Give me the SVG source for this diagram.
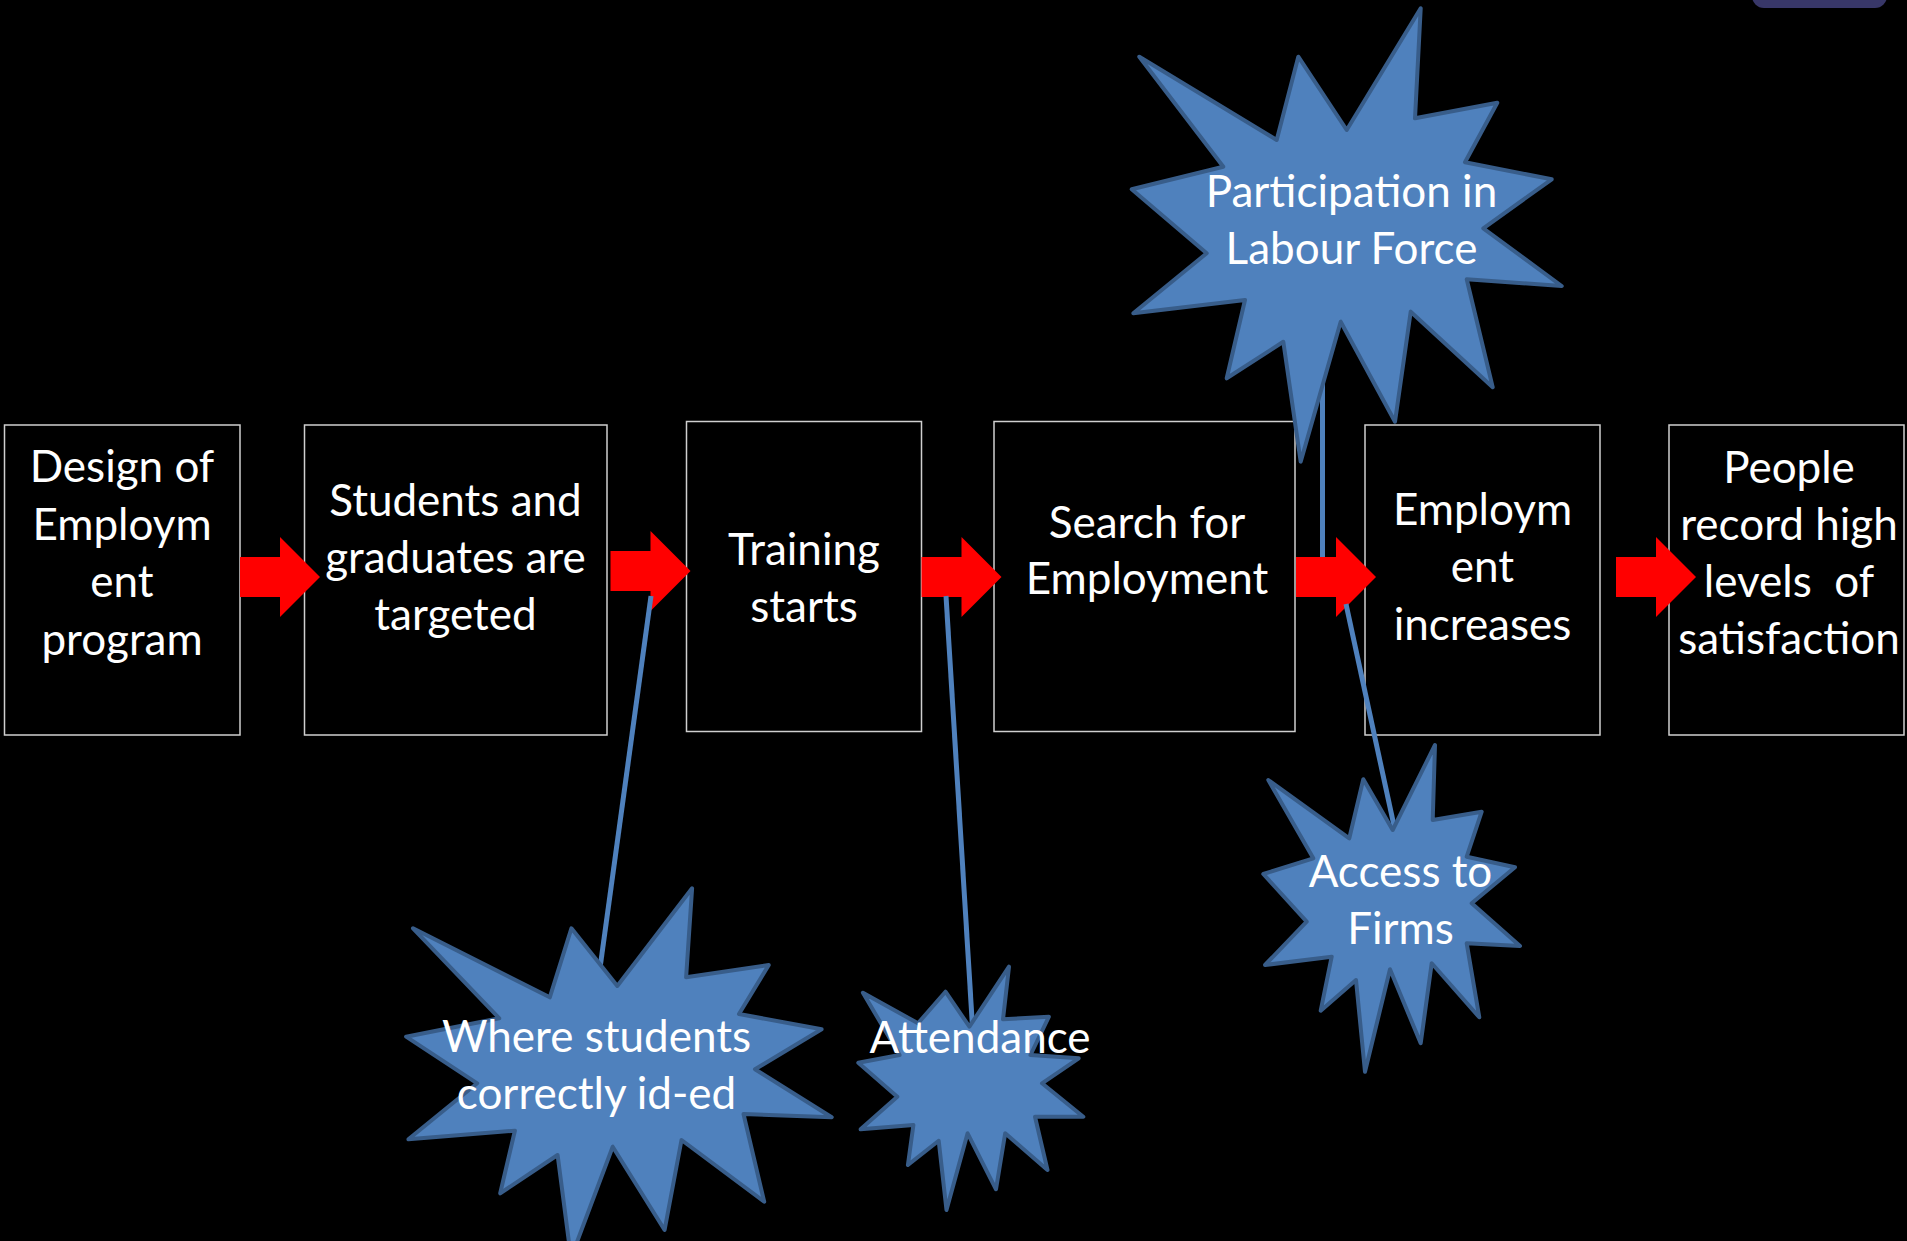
<svg xmlns="http://www.w3.org/2000/svg" xmlns:xlink="http://www.w3.org/1999/xlink" width="1907" height="1241" viewBox="0 0 1907 1241">
  <style>
    .box { fill: #000000; stroke: #cfcfcf; stroke-width: 1.5; }
    .lbl { font-family: Lato, "Open Sans", "Liberation Sans", sans-serif; font-size: 44px; fill: #ffffff; text-anchor: middle; }
    .burst { fill: #4f81bd; stroke: #385d8a; stroke-width: 4; stroke-linejoin: round; }
    .link { stroke: #4f81bd; stroke-width: 5; fill: none; }
    .flow { fill: #ff0000; }
  </style>
  <defs>
    <!-- block arrow: shaft 40 high, head 80 high, 80 long overall -->
    <path id="blockArrow" d="M0,0 H40 V-20 L80,20 L40,60 V40 H0 Z"/>
  </defs>

  <rect x="0" y="0" width="1907" height="1241" fill="#000000"/>
  <!-- tab at the top right edge -->
  <rect x="1752" y="-20" width="135" height="28" rx="12" fill="#383768"/>

  <!-- process boxes -->
  <g id="node-design">
    <rect class="box" x="4.5" y="425" width="235.5" height="310"/>
    <text class="lbl" x="122" y="482">Design of</text>
    <text class="lbl" x="122" y="540">Employm</text>
    <text class="lbl" x="122" y="597">ent</text>
    <text class="lbl" x="122" y="655">program</text>
  </g>
  <g id="node-targeted">
    <rect class="box" x="304.5" y="425" width="302.5" height="310"/>
    <text class="lbl" x="455.5" y="516">Students and</text>
    <text class="lbl" x="455.5" y="573">graduates are</text>
    <text class="lbl" x="455.5" y="630">targeted</text>
  </g>
  <g id="node-training">
    <rect class="box" x="686.5" y="421.5" width="235" height="310"/>
    <text class="lbl" x="804" y="565">Training</text>
    <text class="lbl" x="804" y="622">starts</text>
  </g>
  <g id="node-search">
    <rect class="box" x="994" y="421.5" width="301" height="310"/>
    <text class="lbl" x="1147" y="538">Search for</text>
    <text class="lbl" x="1147" y="594">Employment</text>
  </g>
  <g id="node-employment">
    <rect class="box" x="1365" y="425" width="235" height="310"/>
    <text class="lbl" x="1482.5" y="525">Employm</text>
    <text class="lbl" x="1482.5" y="582">ent</text>
    <text class="lbl" x="1482.5" y="640">increases</text>
  </g>
  <g id="node-satisfaction">
    <rect class="box" x="1669" y="425" width="235" height="310"/>
    <text class="lbl" x="1789" y="483">People</text>
    <text class="lbl" x="1789" y="540">record high</text>
    <text class="lbl" x="1789" y="597" style="white-space:pre">levels  of</text>
    <text class="lbl" x="1789" y="654">satisfaction</text>
  </g>

  <!-- connectors: flow arrows and callout lines -->
  <g id="connectors">
    <use xlink:href="#blockArrow" class="flow" transform="translate(240,557)"/>
    <use xlink:href="#blockArrow" class="flow" transform="translate(610.5,551)"/>
    <use xlink:href="#blockArrow" class="flow" transform="translate(921.5,557)"/>
    <use xlink:href="#blockArrow" class="flow" transform="translate(1296,557)"/>
    <use xlink:href="#blockArrow" class="flow" transform="translate(1616,557)"/>
    <line class="link" x1="651" y1="596" x2="597" y2="990"/>
    <line class="link" x1="946" y1="596" x2="973" y2="1035"/>
    <line class="link" x1="1322.5" y1="340" x2="1322.5" y2="557"/>
    <line class="link" x1="1346" y1="604" x2="1396" y2="835"/>
  </g>

  <!-- callout bursts -->
  <g id="node-participation">
    <polygon class="burst" points="1420.7,8.3 1415,118.3 1497.3,102.7 1465,162.3 1551.7,179.3 1483.3,228.3 1561.7,286 1466.7,279.3 1492.7,387.3 1410.7,311.7 1395,421.7 1340.7,321.7 1300.7,461.7 1283.3,341.7 1226.7,378.3 1245,300 1133.3,313.3 1206.7,253.3 1131.7,189.3 1223.3,166.7 1139.3,56.7 1276.7,140 1298.3,56.7 1346.7,130"/>
    <text class="lbl" x="1351.5" y="207">Participation in</text>
    <text class="lbl" x="1351.5" y="264">Labour Force</text>
  </g>
  <g id="node-identified">
    <polygon class="burst" points="692.1,888.3 686.1,977.3 768.8,965 739,1014 821.6,1029.3 755,1069.3 831.7,1117.3 743.5,1114 764.2,1201.7 681.5,1140 664.6,1230 612.7,1146.7 571,1258 557.6,1155 500.2,1193.3 514.9,1130.7 408.4,1139.3 477.2,1083.3 406.1,1036.7 499.3,1018.3 413,928.3 549.8,997.3 571.4,928.3 617.3,986"/>
    <text class="lbl" x="596.5" y="1052">Where students</text>
    <text class="lbl" x="596.5" y="1109">correctly id-ed</text>
  </g>
  <g id="node-attendance">
    <polygon class="burst" points="1009,966.7 1003,1019.3 1048.9,1016.7 1030.5,1055 1078.7,1058.3 1042,1083.3 1083.3,1116.7 1035,1116.7 1047.5,1170 1005.2,1133.3 996,1189.3 967.6,1133.3 946.5,1210 938.7,1140.7 907.9,1165 913.4,1125 860.6,1129.3 897.3,1096.7 858.3,1062.7 899.6,1055 862.9,992.7 918,1023.3 945.5,991.7 969.4,1026.7"/>
    <text class="lbl" x="980" y="1053">Attendance</text>
  </g>
  <g id="node-access">
    <polygon class="burst" points="1435,745 1432.7,820 1481.7,811.7 1466.7,856.7 1515,867.3 1471.7,903.3 1520,946 1466.7,943.3 1479.3,1017.3 1431.7,963.3 1420.7,1043.3 1390,969.3 1365,1071.7 1356,980 1320.7,1010.7 1331.7,956.7 1265,965 1306.7,921.7 1263.3,874 1313.3,858.3 1268.3,780 1349.3,838.3 1363.3,779.3 1392.7,830"/>
    <text class="lbl" x="1400.5" y="887">Access to</text>
    <text class="lbl" x="1400.5" y="944">Firms</text>
  </g>
</svg>
